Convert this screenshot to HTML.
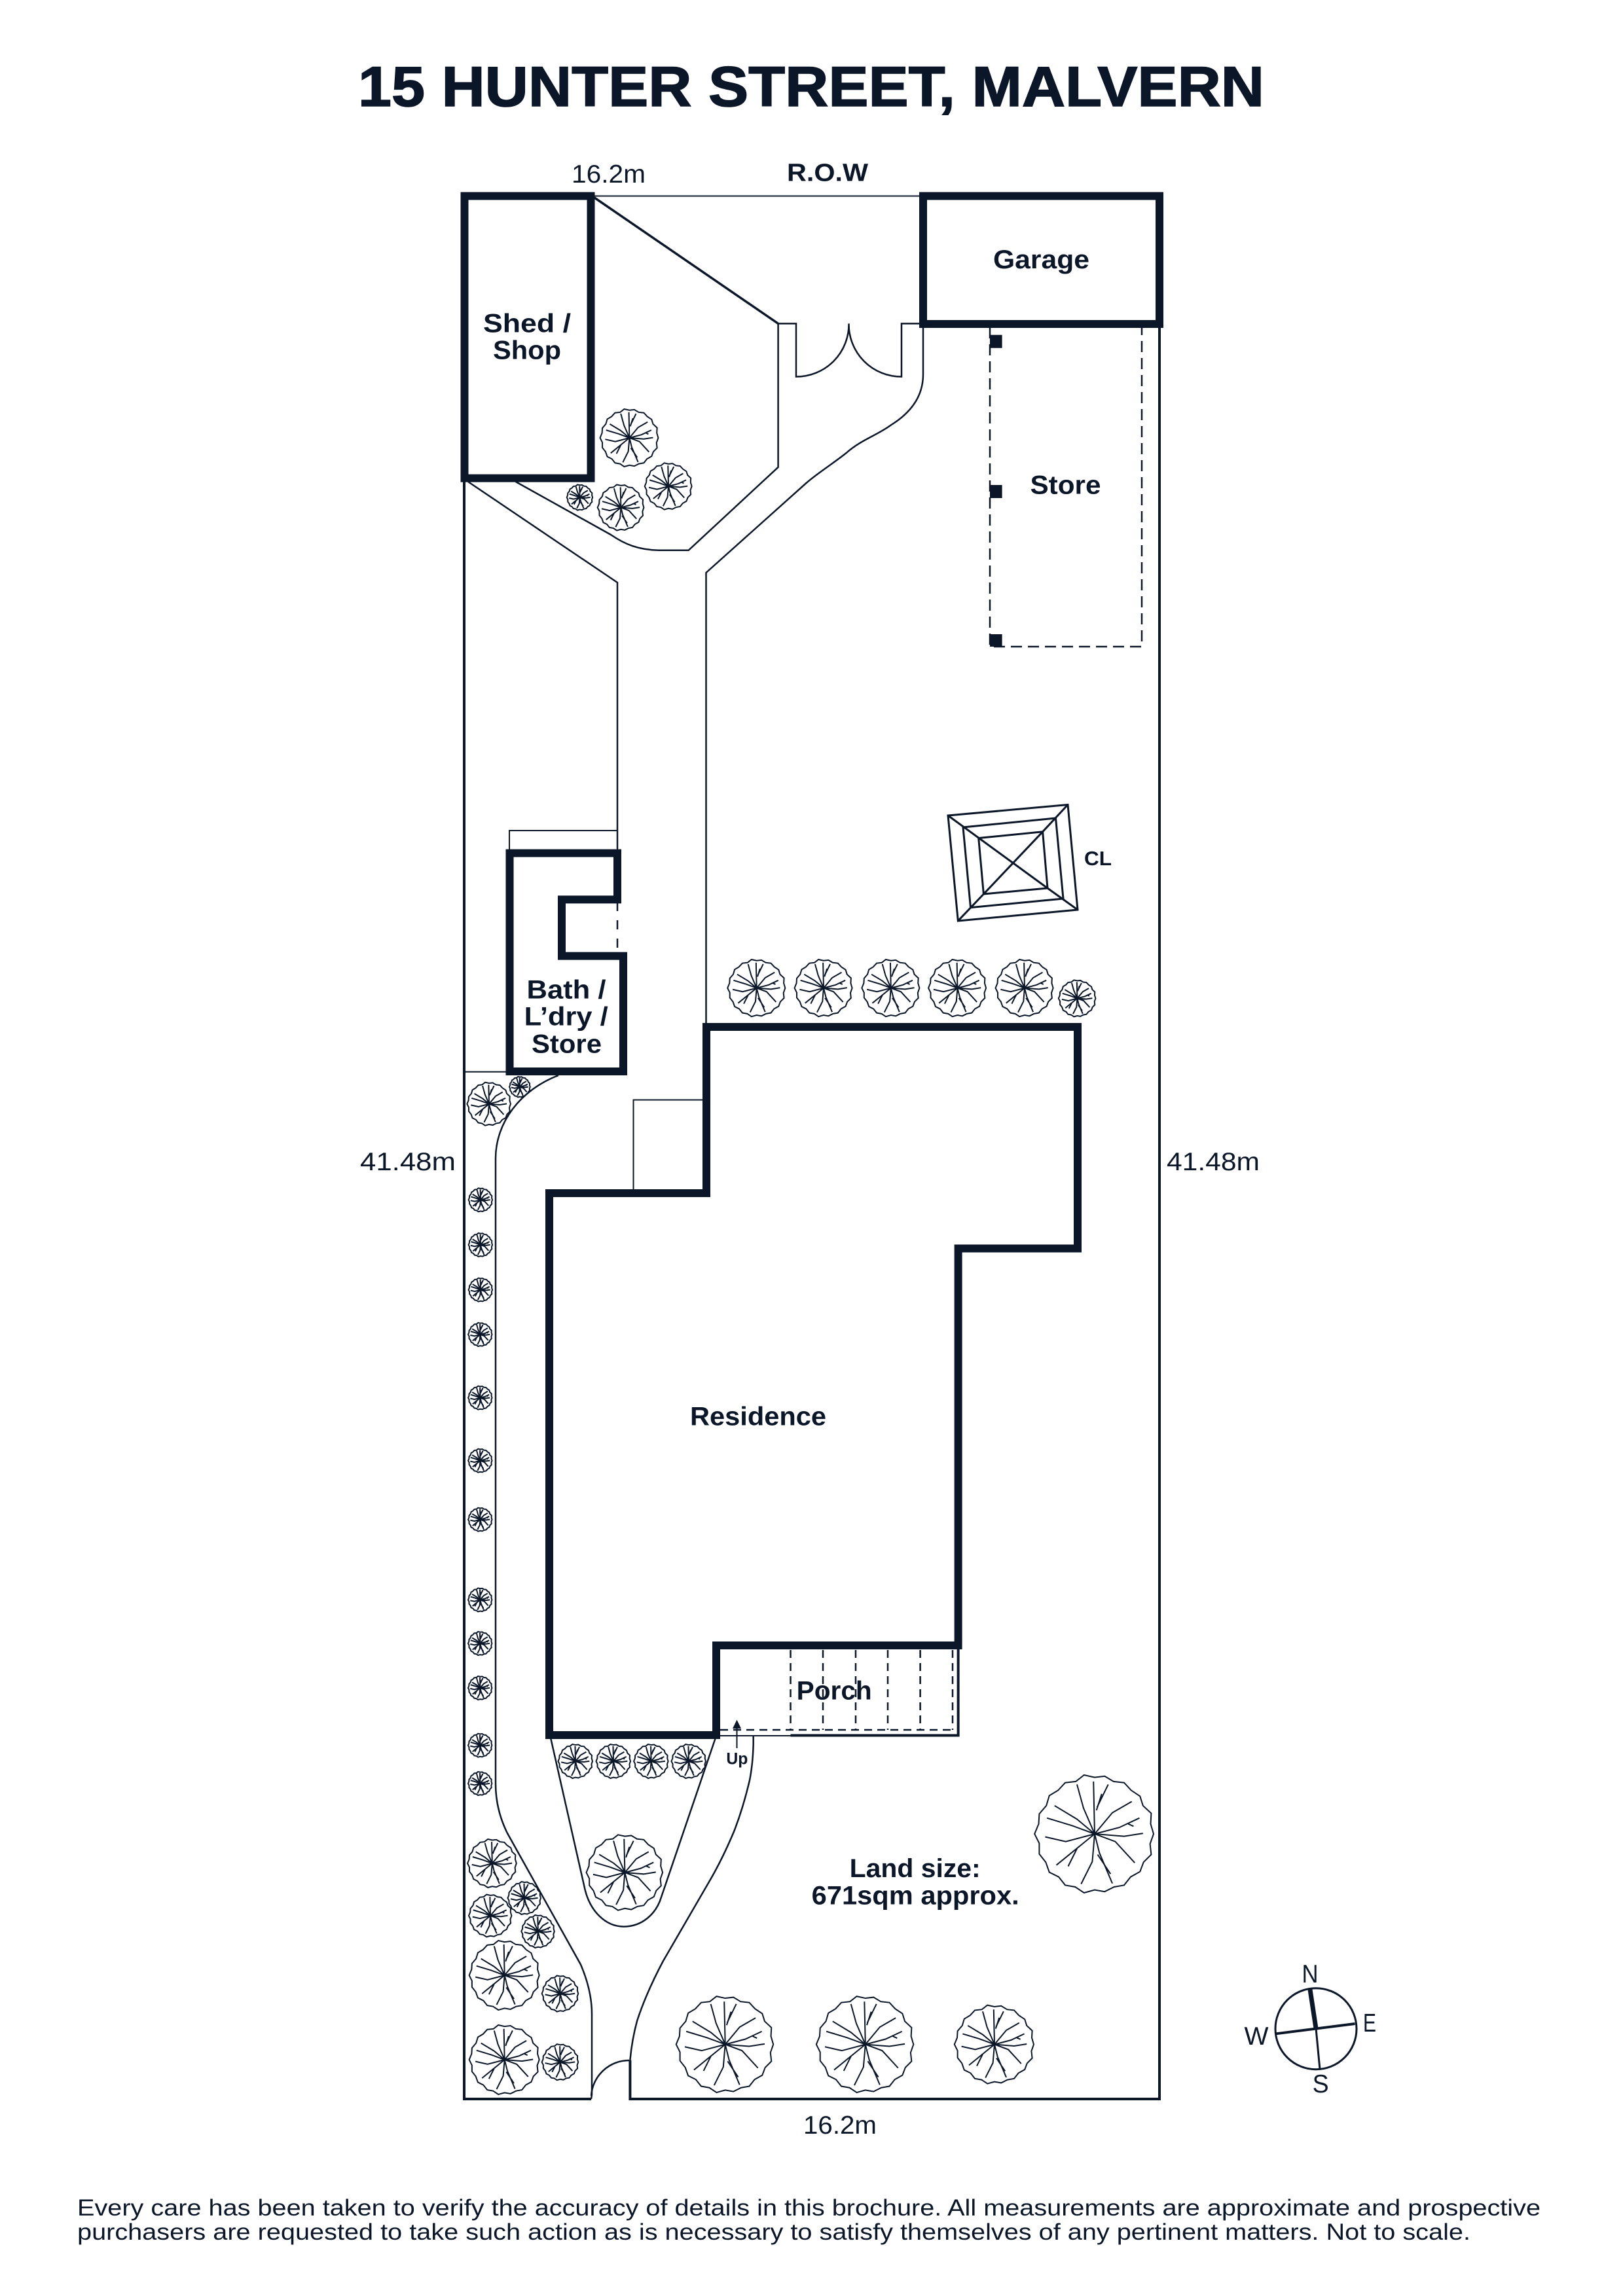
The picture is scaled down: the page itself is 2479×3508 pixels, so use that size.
<!DOCTYPE html>
<html lang="en">
<head>
<meta charset="utf-8">
<title>15 Hunter Street, Malvern</title>
<style>
html,body{margin:0;padding:0;background:#fff}
svg{display:block}
text{font-family:"Liberation Sans",sans-serif;fill:#0b1628}
.b{font-weight:700;font-size:40px}
.r{font-size:39px}
.ln{fill:none;stroke:#0b1628;stroke-width:2.5}
.th{fill:none;stroke:#0b1628;stroke-width:2}
.w{fill:none;stroke:#0b1628;stroke-width:12;stroke-linejoin:miter}
.p{fill:none;stroke:#0b1628;stroke-width:4}
.t use{fill:none}
</style>
</head>
<body>
<svg xmlns="http://www.w3.org/2000/svg" width="2479" height="3508" viewBox="0 0 2479 3508">
<defs>
<g id="t" fill="none" stroke="#0b1628" stroke-width="2">
<polygon vector-effect="non-scaling-stroke" points="100,0 94,17 96,35 83,48 77,64 61,73 50,87 33,90 17,98 0,95 -18,100 -33,90 -50,87 -61,73 -77,65 -83,48 -94,34 -94,16 -102,0 -95,-17 -94,-34 -82,-48 -77,-65 -62,-74 -50,-87 -32,-89 -18,-100 0,-96 17,-98 32,-89 50,-87 62,-74 77,-64 82,-48 96,-35 95,-17"/>
<path vector-effect="non-scaling-stroke" d="M0 0L-19-44L-30-84M0 0L-2-89M4-45L23-84M3-40L12-68M0 0L30-36L63-55M0 0L42-11L76-27M57-17L66-13M0 0L50 4L82-1M0 0L35 13L68 49M0 0L8 32L30 84M5 35L27 68M0 0L-4 47L-23 85M0 0L-65 53M-30 25L-45 55M0 0L-49 13L-84 5M0 0L-38-14L-81-27M0 0L-30-25L-68-48"/>
</g>
</defs>
<rect width="2479" height="3508" fill="#fff"/>

<!-- title -->
<text x="547" y="162" font-size="86" font-weight="700" stroke="#0b1628" stroke-width="1.5" textLength="1384" lengthAdjust="spacingAndGlyphs">15 HUNTER STREET, MALVERN</text>

<!-- plot boundary -->
<path class="p" d="M709 730V3207H903"/>
<path class="p" d="M962.4 3148V3207H1771V495"/>
<path class="th" d="M902 299.5H1410"/>
<path class="th" d="M709 1637.6H778"/>

<!-- paths -->
<path class="ln" style="stroke-width:3.5" d="M908 302L1188.6 494.4"/>
<path class="ln" d="M1188.6 494.4V713.8L1051.7 840.8H1005.8C975 840 955 832 933 817L787.7 736"/>
<path class="ln" d="M1188.6 494.4H1216V575.5A80 80 0 0 0 1296.5 494.4A80 80 0 0 0 1377 575.5V494.4H1410V572C1410 605 1392 630 1361.5 649C1340 665 1315 672 1292.7 692C1270 710 1250 722 1231.5 738L1078.5 875V1564"/>
<path class="ln" d="M715 736L943 890V1297"/>
<path class="th" d="M778 1303V1269H943V1303"/>
<path class="ln" stroke-dasharray="14 14" d="M943 1378V1460"/>
<path class="ln" d="M853 1643C795 1665 757 1715 757 1770V2725C757 2755 765 2781 775 2801L887 3001.6C897 3025 904 3050 904 3077V3200L903 3207"/>
<path class="ln" d="M903 3202A58 58 0 0 1 961 3148"/>
<path class="ln" d="M1150.7 2652V2665C1150 2690 1148 2705 1145 2720C1138 2750 1130 2775 1122 2796C1110 2825 1095 2855 1082 2877L1013 2996C995 3030 982 3060 973 3088C967 3110 964 3130 962.4 3148"/>
<path class="ln" d="M841 2655L892.4 2882C900 2920 925 2943.6 952.7 2943.6C980 2943.6 1002 2925 1010 2898.6L1093 2655"/>
<path class="th" d="M967.5 1823V1680.5H1074"/>

<!-- buildings -->
<path class="w" d="M709.5 299.5H902.5V730.6H709.5Z"/>
<path class="w" d="M1410 299.5H1771V495H1410Z"/>
<path class="w" d="M778.5 1303.5H943V1374.4H858V1460.6H952V1637H778.5Z"/>
<path class="w" d="M1079 1569H1646V1907.5H1463.6V2514H1094V2651H839V1823H1079Z"/>

<!-- porch -->
<path class="p" d="M1207.5 2651.5H1463.6V2514"/>
<path class="th" d="M1094 2652H1207.5"/>
<path class="ln" stroke-dasharray="12 8" d="M1207.5 2521V2643M1257 2521V2643M1307 2521V2643M1356 2521V2643M1405.6 2521V2643M1455 2521V2643M1100 2643H1455"/>
<path class="th" d="M1125.5 2671V2638"/>
<polygon fill="#0b1628" points="1125.5,2627.6 1132,2641 1119,2641"/>

<!-- store -->
<path class="ln" stroke-dasharray="17 9" d="M1512 500V988H1744V500"/>
<rect x="1512" y="511.7" width="18.6" height="20" fill="#0b1628"/>
<rect x="1512" y="741" width="18.6" height="20" fill="#0b1628"/>
<rect x="1512" y="969" width="18.6" height="19" fill="#0b1628"/>

<!-- CL -->
<g class="ln" stroke-linejoin="miter">
<polygon class="ln" style="stroke-width:3" points="1448,1246 1631,1229.5 1646,1390 1463.3,1407"/>
<polygon class="ln" style="stroke-width:3" points="1471,1264 1612.5,1250 1624,1373 1482.5,1386.6"/>
<polygon class="ln" style="stroke-width:3" points="1494.7,1280.5 1592.6,1270.8 1600,1357 1502.4,1366"/>
<path class="ln" style="stroke-width:3" d="M1448 1246L1600 1357M1631 1229.5L1592.6 1270.8M1592.6 1270.8L1502.4 1366M1646 1390L1600 1357M1463.3 1407L1502.4 1366"/>
</g>

<!-- trees -->
<g>
<use href="#t" transform="translate(961.4 669) scale(.44)"/>
<use href="#t" transform="translate(1021 743) scale(.356)"/>
<use href="#t" transform="translate(948.4 775.5) scale(.35)"/>
<use href="#t" transform="translate(885.6 760) scale(.195)"/>
<use href="#t" transform="translate(1155.7 1509.6) scale(.436)"/>
<use href="#t" transform="translate(1258 1509.6) scale(.436)"/>
<use href="#t" transform="translate(1360.8 1509.6) scale(.436)"/>
<use href="#t" transform="translate(1462.5 1509.6) scale(.436)"/>
<use href="#t" transform="translate(1565 1509.6) scale(.436)"/>
<use href="#t" transform="translate(1645.4 1525.4) scale(.28)"/>
<use href="#t" transform="translate(747 1686.7) scale(.33)"/>
<use href="#t" transform="translate(794 1660.7) scale(.157)"/>
<use href="#t" transform="translate(734 1833.3) scale(.18)"/>
<use href="#t" transform="translate(734 1902) scale(.18)"/>
<use href="#t" transform="translate(734 1970.7) scale(.18)"/>
<use href="#t" transform="translate(733.5 2039) scale(.18)"/>
<use href="#t" transform="translate(733.5 2135.7) scale(.18)"/>
<use href="#t" transform="translate(733.5 2231.7) scale(.18)"/>
<use href="#t" transform="translate(733.5 2321.7) scale(.18)"/>
<use href="#t" transform="translate(733.4 2444.4) scale(.18)"/>
<use href="#t" transform="translate(733.4 2511) scale(.18)"/>
<use href="#t" transform="translate(733.4 2579) scale(.18)"/>
<use href="#t" transform="translate(733.4 2666.7) scale(.18)"/>
<use href="#t" transform="translate(733.4 2725) scale(.18)"/>
<use href="#t" transform="translate(879 2691) scale(.26)"/>
<use href="#t" transform="translate(937 2691) scale(.26)"/>
<use href="#t" transform="translate(994.6 2691) scale(.26)"/>
<use href="#t" transform="translate(1052 2691) scale(.26)"/>
<use href="#t" transform="translate(954.4 2861) scale(.577)"/>
<use href="#t" transform="translate(751.8 2847) scale(.37)"/>
<use href="#t" transform="translate(801 2900) scale(.25)"/>
<use href="#t" transform="translate(749 2927) scale(.324)"/>
<use href="#t" transform="translate(821.8 2951) scale(.25)"/>
<use href="#t" transform="translate(770.7 3018) scale(.53)"/>
<use href="#t" transform="translate(855.7 3046) scale(.275)"/>
<use href="#t" transform="translate(770.7 3147) scale(.53)"/>
<use href="#t" transform="translate(855.7 3150.7) scale(.275)"/>
<use href="#t" transform="translate(1107.7 3123.6) scale(.735)"/>
<use href="#t" transform="translate(1321.8 3123.6) scale(.735)"/>
<use href="#t" transform="translate(1519 3123.6) scale(.6)"/>
<use href="#t" transform="translate(1672 2802) scale(.9)"/>
</g>

<!-- compass -->
<circle cx="2010" cy="3099.7" r="62" fill="none" stroke="#0b1628" stroke-width="3"/>
<path fill="none" stroke="#0b1628" stroke-width="7" d="M2000.8 3038.4L2010 3099"/>
<path fill="none" stroke="#0b1628" stroke-width="3" d="M2010 3099L2016 3162"/>
<path fill="none" stroke="#0b1628" stroke-width="4" d="M1948.8 3107.3L2069.6 3092"/>

<!-- labels -->
<text class="r" x="873" y="279" textLength="113" lengthAdjust="spacingAndGlyphs">16.2m</text>
<text class="b" x="1202" y="276.5" style="font-size:38px" textLength="124" lengthAdjust="spacingAndGlyphs">R.O.W</text>
<text class="b" x="1517" y="410" textLength="147" lengthAdjust="spacingAndGlyphs">Garage</text>
<text class="b" x="738" y="507.6" textLength="134" lengthAdjust="spacingAndGlyphs">Shed /</text>
<text class="b" x="753" y="548.5" textLength="104" lengthAdjust="spacingAndGlyphs">Shop</text>
<text class="b" x="1573.5" y="754.6" textLength="108" lengthAdjust="spacingAndGlyphs">Store</text>
<text class="b" x="1656" y="1322" style="font-size:31px" textLength="42" lengthAdjust="spacingAndGlyphs">CL</text>
<text class="b" x="804.5" y="1525.4" textLength="121" lengthAdjust="spacingAndGlyphs">Bath /</text>
<text class="b" x="800.7" y="1566.7" textLength="128" lengthAdjust="spacingAndGlyphs">L’dry /</text>
<text class="b" x="812" y="1608.6" textLength="107" lengthAdjust="spacingAndGlyphs">Store</text>
<text class="r" x="550" y="1788" textLength="146" lengthAdjust="spacingAndGlyphs">41.48m</text>
<text class="r" x="1782" y="1788" textLength="142" lengthAdjust="spacingAndGlyphs">41.48m</text>
<text class="b" x="1054" y="2177.7" textLength="208" lengthAdjust="spacingAndGlyphs">Residence</text>
<text class="b" x="1216.7" y="2596.7" textLength="115" lengthAdjust="spacingAndGlyphs">Porch</text>
<text class="b" x="1109.4" y="2695.4" style="font-size:25px" textLength="33" lengthAdjust="spacingAndGlyphs">Up</text>
<text class="b" x="1297.7" y="2867.8" textLength="200" lengthAdjust="spacingAndGlyphs">Land size:</text>
<text class="b" x="1239.7" y="2909.5" textLength="317" lengthAdjust="spacingAndGlyphs">671sqm approx.</text>
<text class="r" x="1227" y="3260" textLength="112" lengthAdjust="spacingAndGlyphs">16.2m</text>
<text class="r" x="1988.5" y="3029" textLength="25" lengthAdjust="spacingAndGlyphs">N</text>
<text class="r" x="1900.5" y="3124" textLength="37" lengthAdjust="spacingAndGlyphs">W</text>
<text class="r" x="2082" y="3104" textLength="20" lengthAdjust="spacingAndGlyphs">E</text>
<text class="r" x="2004.6" y="3197" textLength="25" lengthAdjust="spacingAndGlyphs">S</text>

<!-- footer -->
<text x="118" y="3385" font-size="35" textLength="2235" lengthAdjust="spacingAndGlyphs">Every care has been taken to verify the accuracy of details in this brochure. All measurements are approximate and prospective</text>
<text x="118" y="3422" font-size="35" textLength="2128" lengthAdjust="spacingAndGlyphs">purchasers are requested to take such action as is necessary to satisfy themselves of any pertinent matters. Not to scale.</text>
</svg>
</body>
</html>
